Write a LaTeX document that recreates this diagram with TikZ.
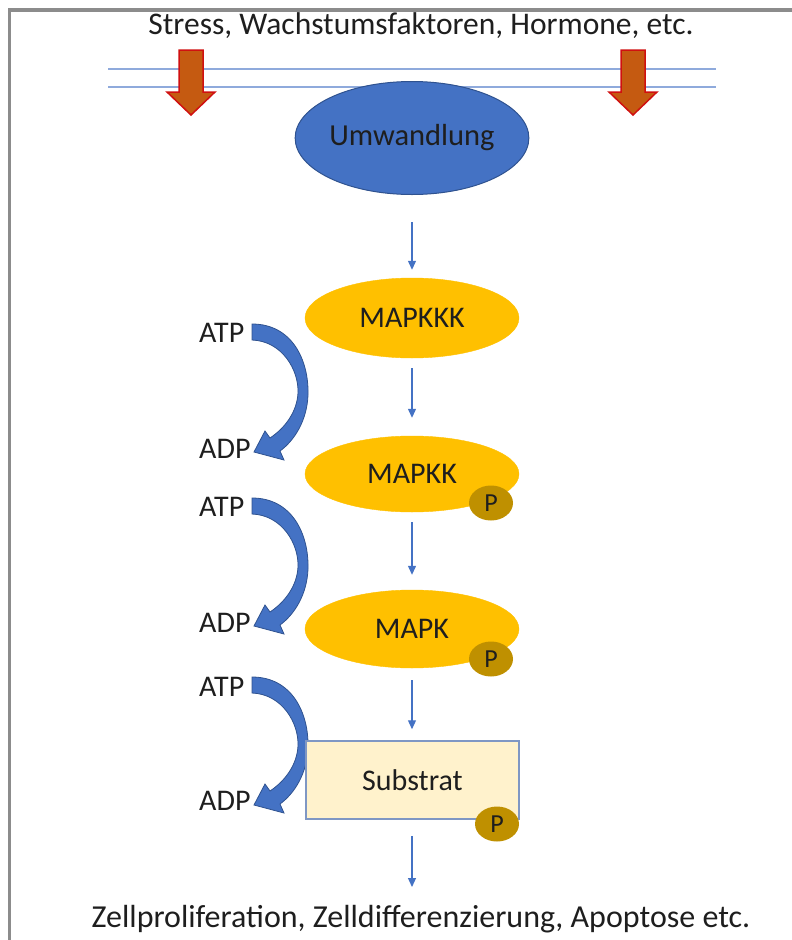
\documentclass[tikz,border=0pt]{standalone}
\usepackage{fontspec}
\setmainfont{Carlito}
\usetikzlibrary{shapes.geometric,arrows.meta}
\definecolor{framec}{HTML}{8C8C8C}
\definecolor{membc}{HTML}{8FAADC}
\definecolor{redfill}{HTML}{C55A11}
\definecolor{reddraw}{HTML}{D01010}
\definecolor{bluefill}{HTML}{4472C4}
\definecolor{bluedraw}{HTML}{2F528F}
\definecolor{yellowfill}{HTML}{FFC000}
\definecolor{pfill}{HTML}{BF9000}
\definecolor{subfill}{HTML}{FFF2CC}
\definecolor{subdraw}{HTML}{7F97C4}
\definecolor{txtc}{HTML}{1E1E1E}
\begin{document}
\begin{tikzpicture}[x=1pt,y=-1pt,
  lbl/.style={font=\fontsize{30}{36}\selectfont, text=txtc, inner sep=0pt},
  kinase/.style={ellipse, fill=yellowfill, draw=yellowfill, minimum width=214pt, inner sep=0pt, font=\fontsize{30}{36}\selectfont, text=txtc},
  pball/.style={ellipse, fill=pfill, minimum width=44pt, minimum height=35pt, inner sep=0pt, font=\fontsize{26}{30}\selectfont, text=txtc},
  conn/.style={draw=bluefill, line width=1.2pt, -{Triangle[length=9pt,width=8pt]}},
  redarrow/.style={fill=redfill, draw=reddraw, line width=1.5pt, line join=miter},
  atparrow/.style={fill=bluefill, draw=bluedraw, line width=0.8pt}
]
\useasboundingbox (0,0) rectangle (792,940);
% frame
\draw[framec, line width=3.5pt] (9.5,940) -- (9.5,10) -- (792,10);
% membrane
\draw[membc, line width=1.5pt] (108,69) -- (716,69);
\draw[membc, line width=1.5pt] (108,87) -- (716,87);
% top text
\node[font=\fontsize{31.5}{37}\selectfont, text=txtc, inner sep=0pt] (stress) at (421,26) {Stress, Wachstumsfaktoren, Hormone, etc.};
% red block arrows
\foreach \cx in {191,633}{
  \draw[redarrow] (\cx-12,50) -- (\cx+12,50) -- (\cx+12,92) -- (\cx+24,92) -- (\cx,115) -- (\cx-24,92) -- (\cx-12,92) -- cycle;
}
% Umwandlung
\node[ellipse, fill=bluefill, draw=bluedraw, line width=1pt, minimum width=214pt, minimum height=113pt, inner sep=0pt, font=\fontsize{30.5}{36}\selectfont, text=txtc] (umw) at (412,138) {Umwandlung};
% kinases
\node[kinase, minimum height=80pt] (mapkkk) at (412,318) {MAPKKK};
\node[kinase, minimum height=76pt] (mapkk) at (412,474) {MAPKK};
\node[kinase, minimum height=78pt] (mapk) at (412,629) {MAPK};
% ATP/ADP arrows
\foreach \s in {0,174,353}{
  \begin{scope}[shift={(0,\s)}]
    \draw[atparrow] (252,324) .. controls (292,324) and (309,360) .. (308,395)
      .. controls (307,420) and (295,440) .. (280,451) -- (284,460) -- (254,452) -- (265,431) -- (270,438)
      .. controls (285,428) and (297,412) .. (298,393)
      .. controls (299,370) and (282,341) .. (252,340) -- cycle;
  \end{scope}
}
\node[lbl, anchor=west] (atp1) at (199,333) {ATP};
\node[lbl, anchor=west] (adp1) at (199,449) {ADP};
\node[lbl, anchor=west] (atp2) at (199,507) {ATP};
\node[lbl, anchor=west] (adp2) at (199,623) {ADP};
\node[lbl, anchor=west] (atp3) at (199,687) {ATP};
\node[lbl, anchor=west] (adp3) at (199,801) {ADP};
% substrate
\node[rectangle, fill=subfill, draw=subdraw, line width=1.5pt, minimum width=213pt, minimum height=78pt, inner sep=0pt, font=\fontsize{30}{36}\selectfont, text=txtc] (sub) at (412.5,780) {Substrat};
% phosphates
\node[pball] (p1) at (491,503) {P};
\node[pball] (p2) at (491,659) {P};
\node[pball] (p3) at (497,824) {P};
% bottom text
\node[font=\fontsize{32}{38}\selectfont, text=txtc, inner sep=0pt] (out) at (421,919) {Zellproliferation, Zelldifferenzierung, Apoptose etc.};
\coordinate (outtop) at (412,887);
% connectors
\draw[conn, shorten <=27pt, shorten >=8pt] (umw.south) -- (mapkkk.north);
\draw[conn, shorten <=10pt, shorten >=18pt] (mapkkk.south) -- (mapkk.north);
\draw[conn, shorten <=10pt, shorten >=15pt] (mapkk.south) -- (mapk.north);
\draw[conn, shorten <=12pt, shorten >=11pt] (mapk.south) -- (sub.north -| mapk.south);
\draw[conn, shorten <=16pt] (sub.south -| outtop) -- (outtop);
\end{tikzpicture}
\end{document}
